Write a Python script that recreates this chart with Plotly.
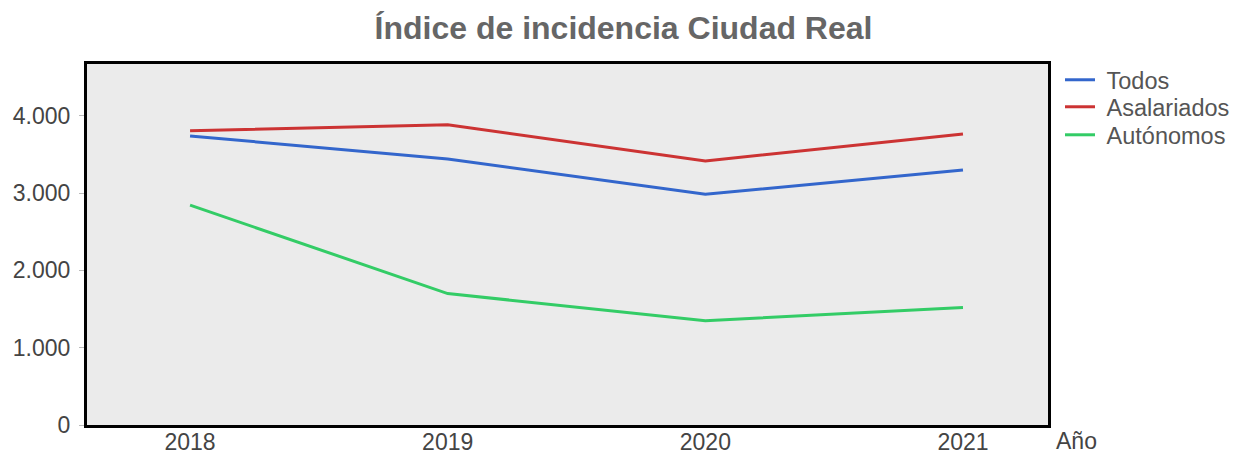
import plotly.graph_objects as go

years = [2018, 2019, 2020, 2021]
todos = [3740, 3440, 2985, 3300]
asalariados = [3805, 3885, 3415, 3765]
autonomos = [2845, 1700, 1350, 1520]

names = ["Todos", "Asalariados", "Autónomos"]
colors = ["#3366CC", "#CC3333", "#33CC66"]
series = [todos, asalariados, autonomos]
legend_ids = ["legend", "legend2", "legend3"]
legend_y = [0.9557, 0.8809, 0.8033]

fig = go.Figure()
for n, c, s, lg in zip(names, colors, series, legend_ids):
    fig.add_trace(go.Scatter(x=years, y=s, mode="lines", name="\u00a0" + n, legend=lg,
                             line=dict(color=c, width=3)))

legend_common = dict(x=1.0125, xanchor="left", yanchor="middle",
                     font=dict(size=23.5, color="#555555"), itemwidth=30,
                     bgcolor="rgba(0,0,0,0)", borderwidth=0)

fig.update_layout(
    template="none",
    width=1247, height=457,
    margin=dict(l=87, r=199, t=64, b=32, pad=0),
    paper_bgcolor="white",
    plot_bgcolor="#EBEBEB",
    separators=",.",
    font=dict(family="Liberation Sans, Arial, sans-serif", size=23, color="#444444"),
    title=dict(text="<b>Índice de incidencia Ciudad Real</b>", x=0.5, xanchor="center",
               y=0.94, yanchor="middle",
               font=dict(size=32, color="#666666")),
    legend=dict(y=legend_y[0], **legend_common),
    legend2=dict(y=legend_y[1], **legend_common),
    legend3=dict(y=legend_y[2], **legend_common),
    showlegend=True,
)
fig.update_xaxes(range=[2017.6, 2021.33], tickvals=years, ticktext=[str(y) for y in years],
                 showgrid=False, zeroline=False, showline=True, linecolor="black",
                 linewidth=3, mirror=True, ticks="", automargin=False,
                 ticklabelstandoff=-6)
fig.update_yaxes(range=[0, 4670], tickvals=[0, 1000, 2000, 3000, 4000], tickformat=",d",
                 showgrid=False, zeroline=False, showline=True, linecolor="black",
                 linewidth=3, mirror=True, ticks="outside", ticklen=5, tickcolor="#BBBBBB",
                 tickwidth=1, automargin=False, ticklabelstandoff=4)
fig.add_annotation(text="Año", xref="paper", yref="paper", x=1.0, y=0, xanchor="left",
                   yanchor="middle", xshift=6, yshift=-16, showarrow=False,
                   font=dict(size=23, color="#444444"))

fig.write_html("out.html", config={"displayModeBar": False},
               post_script="document.body.style.margin='0';")
